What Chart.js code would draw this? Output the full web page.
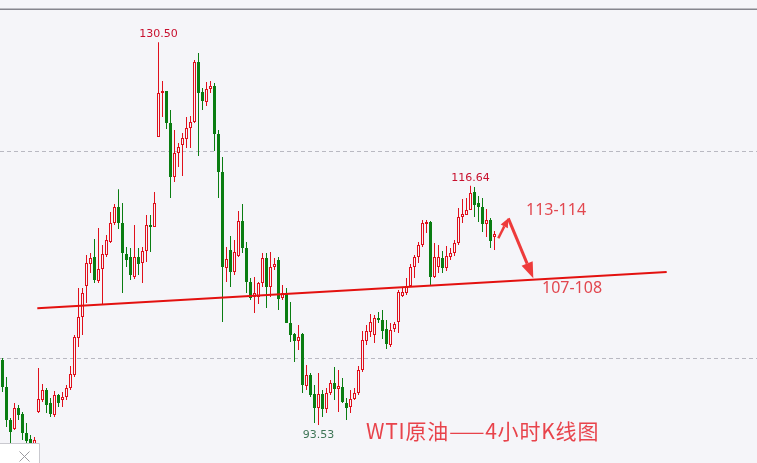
<!DOCTYPE html>
<html>
<head>
<meta charset="utf-8">
<script src="https://cdn.jsdelivr.net/npm/chart.js@4.4.0/dist/chart.umd.min.js"></script>
<style>
  html, body { margin: 0; padding: 0; background: #f5f5f9; overflow: hidden; }
  canvas { display: block; }
</style>
</head>
<body>
<canvas id="kChart" width="757" height="463"></canvas>
<script>
// WTI 4h candles (oldest first)
const opens = [99.81, 97.20, 94.01, 93.14, 95.17, 94.59, 92.75, 92.17, 91.50, 94.78,
  95.94, 96.91, 95.65, 94.49, 96.43, 95.94, 96.23, 97.10, 98.36, 101.93,
  103.96, 106.96, 109.08, 109.76, 107.44, 108.60, 109.95, 111.21, 113.04, 114.59,
  113.04, 110.05, 109.76, 107.83, 109.76, 109.18, 110.34, 112.85, 112.66, 121.35,
  125.60, 125.80, 122.71, 117.49, 119.81, 120.58, 121.16, 122.22, 122.80, 128.60,
  125.70, 124.73, 125.99, 126.28, 121.64, 117.97, 108.70, 110.44, 108.31, 109.86,
  113.24, 110.63, 107.34, 105.89, 105.89, 107.25, 109.66, 106.86, 108.79, 109.47,
  105.80, 106.28, 103.38, 102.32, 101.64, 102.32, 97.30, 98.36, 96.52, 95.17,
  96.52, 95.07, 96.62, 97.59, 97.01, 97.20, 95.65, 95.27, 96.04, 96.62,
  98.84, 101.64, 102.51, 102.22, 103.87, 103.67, 102.80, 101.26, 102.80, 103.48,
  105.99, 106.28, 106.96, 108.79, 109.76, 110.92, 112.95, 113.14, 107.83, 108.79,
  109.66, 108.70, 109.76, 110.15, 111.11, 113.62, 113.82, 114.30, 116.04, 114.98,
  114.59, 112.95, 113.33, 111.69];
const highs = [100.00, 98.16, 94.20, 95.65, 95.46, 94.78, 93.72, 92.56, 92.37, 99.03,
  97.49, 97.10, 96.14, 96.81, 96.52, 96.71, 97.39, 99.23, 102.22, 106.76,
  106.76, 109.95, 110.15, 111.50, 112.56, 110.92, 111.88, 114.11, 114.88, 116.30,
  114.98, 110.73, 110.63, 112.85, 110.63, 110.73, 113.82, 113.82, 116.04, 130.50,
  126.76, 125.80, 123.96, 122.03, 120.77, 121.74, 123.29, 123.38, 128.79, 129.47,
  126.09, 126.67, 126.76, 126.57, 122.03, 119.42, 110.73, 111.79, 111.40, 114.20,
  114.88, 111.21, 107.73, 107.83, 107.34, 110.15, 110.15, 110.24, 109.66, 109.76,
  107.05, 106.76, 105.41, 102.42, 103.19, 102.42, 99.32, 98.55, 97.39, 98.55,
  96.91, 97.10, 97.88, 99.13, 98.84, 98.07, 96.14, 96.91, 97.10, 99.23,
  102.61, 103.19, 104.25, 104.16, 104.45, 104.64, 103.67, 103.38, 103.48, 106.57,
  106.86, 107.73, 109.08, 109.95, 111.21, 113.33, 113.33, 113.24, 111.11, 110.92,
  110.34, 110.82, 110.63, 111.40, 114.49, 115.36, 115.46, 116.64, 116.52, 115.65,
  115.46, 114.40, 113.53, 112.27];
const lows = [96.71, 93.33, 91.79, 93.04, 94.01, 92.08, 91.79, 90.92, 91.11, 94.69,
  95.75, 94.69, 94.30, 94.30, 95.27, 95.27, 95.94, 96.91, 98.16, 101.06,
  102.22, 105.31, 108.21, 107.25, 107.25, 105.22, 109.76, 111.11, 112.85, 112.46,
  106.28, 108.79, 107.54, 107.63, 108.02, 107.25, 109.28, 110.24, 112.66, 121.35,
  123.29, 122.13, 115.46, 117.01, 118.45, 117.59, 120.29, 120.29, 122.71, 119.52,
  123.96, 124.35, 125.60, 120.00, 115.46, 103.48, 107.34, 106.86, 108.02, 109.76,
  110.15, 106.28, 105.60, 104.35, 105.22, 106.86, 104.83, 105.89, 108.50, 104.64,
  105.60, 103.38, 101.55, 99.61, 100.77, 96.62, 96.91, 96.23, 93.72, 93.53,
  94.30, 94.69, 96.43, 95.94, 94.78, 95.65, 94.01, 94.69, 95.94, 96.43,
  98.65, 101.26, 102.03, 101.45, 103.38, 101.84, 100.87, 101.06, 102.51, 102.42,
  105.89, 106.09, 106.86, 107.73, 109.18, 110.73, 112.08, 107.05, 107.73, 108.21,
  108.21, 108.41, 109.47, 109.86, 110.92, 113.04, 113.82, 114.30, 113.62, 113.14,
  112.17, 111.69, 110.63, 110.44];
const closes = [97.20, 94.01, 92.85, 95.17, 94.49, 92.75, 91.98, 91.50, 92.08, 96.04,
  96.91, 95.46, 94.59, 96.43, 95.65, 96.23, 97.10, 98.45, 102.03, 103.96,
  106.28, 109.18, 109.66, 107.54, 108.60, 110.05, 111.40, 113.04, 114.59, 113.04,
  110.15, 109.47, 108.02, 109.76, 109.08, 110.34, 112.85, 112.66, 114.98, 125.60,
  125.80, 122.71, 117.49, 119.81, 120.39, 121.26, 122.22, 122.80, 128.60, 125.60,
  124.83, 125.99, 126.28, 121.64, 117.97, 108.79, 109.57, 108.31, 110.24, 113.24,
  110.63, 107.34, 105.80, 106.28, 107.25, 109.66, 106.86, 108.79, 109.08, 105.70,
  106.28, 103.38, 102.22, 101.64, 102.03, 97.39, 98.36, 96.43, 95.17, 96.52,
  95.07, 96.62, 97.59, 97.01, 97.30, 95.75, 95.17, 96.04, 96.62, 98.84,
  101.74, 102.61, 103.48, 103.87, 103.67, 102.61, 101.35, 102.71, 103.29, 106.38,
  106.38, 106.96, 108.79, 109.76, 110.92, 113.04, 113.14, 107.83, 109.76, 109.76,
  108.70, 109.86, 110.15, 111.11, 113.62, 113.91, 114.30, 115.94, 114.78, 114.59,
  112.95, 113.33, 111.31, 111.98];

const gridLevels = [100, 120];
// support line (candle index, price)
const trendIdx = [8.7, 166.05];
const trendPrice = [104.80, 108.31];
// projected path: small bounce then drop to the line
const arrowIdx = [123.95, 126.45, 132.7];
const arrowPrice = [111.57, 113.50, 107.70];
const highMarks = [39, 117];
const lowMarks = [79];

const BG = '#f5f5f9';
const UP = '#e0101c';
const DOWN = '#0a7d12';

let idx = opens.map((v, i) => i);
let isUp = idx.map(i => closes[i] >= opens[i]);

const drawArrow = (c, x1, y1, x2, y2, shaft, headLen, headW) => {
  let a = Math.atan2(y2 - y1, x2 - x1);
  let bx = x2 - Math.cos(a) * headLen, by = y2 - Math.sin(a) * headLen;
  c.lineWidth = shaft;
  c.beginPath(); c.moveTo(x1, y1); c.lineTo(bx, by); c.stroke();
  c.beginPath();
  c.moveTo(x2, y2);
  c.lineTo(bx + Math.sin(a) * headW / 2, by - Math.cos(a) * headW / 2);
  c.lineTo(bx - Math.sin(a) * headW / 2, by + Math.cos(a) * headW / 2);
  c.closePath(); c.fill();
};

const decor = {
  id: 'decor',
  beforeDraw(chart) {
    const c = chart.ctx;
    c.save();
    c.fillStyle = BG;
    c.fillRect(0, 0, chart.width, chart.height);
    c.restore();
  },
  afterDatasetsDraw(chart) {
    const c = chart.ctx, xs = chart.scales.x, ys = chart.scales.y;
    c.save();
    // arrows
    c.strokeStyle = '#ee3b3b'; c.fillStyle = '#ee3b3b';
    let px = arrowIdx.map(v => xs.getPixelForValue(v));
    let py = arrowPrice.map(v => ys.getPixelForValue(v));
    drawArrow(c, px[0], py[0], px[1], py[1], 2.5, 9, 8);
    drawArrow(c, px[1], py[1], px[2], py[2], 3, 16, 12);
    // high / low marks
    c.font = '11px "DejaVu Sans"';
    c.textAlign = 'center';
    c.textBaseline = 'middle';
    c.fillStyle = '#c8102e';
    highMarks.forEach(i => {
      c.fillText(highs[i].toFixed(2), xs.getPixelForValue(i), ys.getPixelForValue(highs[i]) - 8);
    });
    c.fillStyle = '#3e7556';
    lowMarks.forEach(i => {
      c.fillText(lows[i].toFixed(2), xs.getPixelForValue(i), ys.getPixelForValue(lows[i]) + 10);
    });
    // target texts
    c.fillStyle = '#e2474f';
    c.font = '16px "Noto Sans"';
    c.textAlign = 'left';
    c.fillText('113-114', 526, 210);
    c.fillText('107-108', 542, 288);
    c.font = '21px "Noto Sans CJK SC"';
    c.letterSpacing = '0.8px';
    c.fillStyle = '#e8434b';
    c.fillText('WTI原油——4小时K线图', 366, 431);
    c.restore();
  },
  afterDraw(chart) {
    const c = chart.ctx;
    c.save();
    c.fillStyle = '#86868e';
    c.fillRect(0, 8.5, chart.width, 1.5);
    // little close box in the corner
    c.fillStyle = '#ffffff';
    c.fillRect(0, 443, 39, 20);
    c.strokeStyle = '#c9c9cf'; c.lineWidth = 1;
    c.beginPath(); c.moveTo(0, 443.5); c.lineTo(39.5, 443.5); c.lineTo(39.5, 463); c.stroke();
    c.strokeStyle = '#9a9aa0';
    c.beginPath();
    c.moveTo(19.5, 451.5); c.lineTo(29.5, 461.5);
    c.moveTo(29.5, 451.5); c.lineTo(19.5, 461.5);
    c.stroke();
    c.restore();
  }
};

new Chart(document.getElementById('kChart').getContext('2d'), {
  type: 'bar',
  data: {
    datasets: [{
      type: 'line',
      data: trendIdx.map((v, k) => ({x: v, y: trendPrice[k]})),
      borderColor: '#e3110f',
      borderWidth: 2,
      pointRadius: 0,
      order: 0
    }, {
      // bodies
      data: idx.map(i => ({x: i, y: [opens[i], closes[i]]})),
      backgroundColor: idx.map(i => isUp[i] ? BG : DOWN),
      borderColor: idx.map(i => isUp[i] ? UP : DOWN),
      borderWidth: 1,
      borderSkipped: false,
      inflateAmount: 0,
      barThickness: 3,
      grouped: false,
      order: 1
    }, {
      // wicks
      data: idx.map(i => ({x: i, y: [lows[i], highs[i]]})),
      backgroundColor: idx.map(i => isUp[i] ? UP : DOWN),
      borderWidth: 0,
      inflateAmount: 0,
      barThickness: 1,
      grouped: false,
      order: 2
    }]
  },
  options: {
    responsive: false,
    animation: false,
    devicePixelRatio: 1,
    layout: {padding: 0},
    plugins: {legend: {display: false}, tooltip: {enabled: false}},
    scales: {
      x: {type: 'linear', display: false, offset: false, min: -0.625, max: 188.625},
      y: {
        min: 89.86, max: 134.59,
        ticks: {display: false},
        afterBuildTicks: s => { s.ticks = gridLevels.map(v => ({value: v})); },
        afterFit: s => { s.width = 0; },
        grid: {color: '#b9b9c2', lineWidth: 1, drawTicks: false},
        border: {display: false, dash: [4, 3]}
      }
    }
  },
  plugins: [decor]
});
</script>
</body>
</html>
